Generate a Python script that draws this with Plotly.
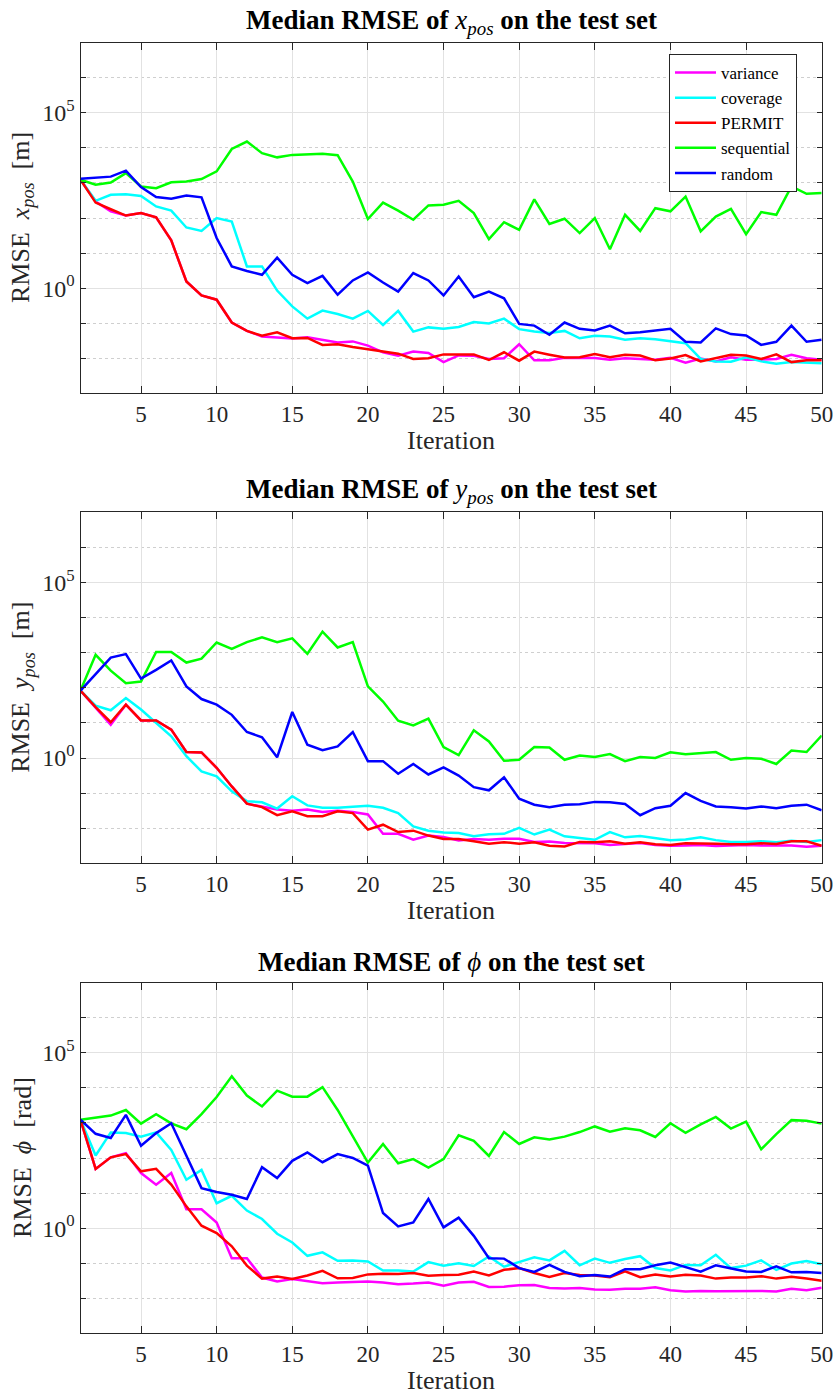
import numpy as np
import plotly.graph_objects as go

# ---------------- data (log10 of median RMSE) ----------------
iterations = list(range(1, 51))
methods = ["variance", "coverage", "PERMIT", "sequential", "random"]
colors = {"variance": "#FF00FF", "coverage": "#00FFFF", "PERMIT": "#FF0000",
          "sequential": "#00FF00", "random": "#0000FF"}

xpos_variance = [3.09, 2.47, 2.19, 2.07, 2.14, 2.02, 1.36, 0.19, -0.21, -0.33,
                 -0.98, -1.22, -1.38, -1.41, -1.44, -1.40, -1.47, -1.55, -1.52, -1.64,
                 -1.83, -1.93, -1.81, -1.85, -2.11, -1.92, -1.93, -2.02, -2.00, -1.60,
                 -2.06, -2.06, -1.99, -1.99, -1.99, -2.04, -2.00, -2.02, -2.04, -1.99,
                 -2.13, -2.01, -2.09, -1.97, -2.04, -2.04, -2.02, -1.90, -2.00, -2.04]
xpos_coverage = [3.09, 2.49, 2.66, 2.68, 2.63, 2.33, 2.21, 1.73, 1.63, 2.00,
                 1.90, 0.62, 0.62, -0.07, -0.52, -0.87, -0.64, -0.74, -0.87, -0.65,
                 -1.05, -0.65, -1.24, -1.12, -1.16, -1.11, -0.97, -1.01, -0.87, -1.17,
                 -1.24, -1.28, -1.22, -1.43, -1.36, -1.38, -1.47, -1.43, -1.46, -1.52,
                 -1.57, -2.02, -2.09, -2.10, -1.97, -2.09, -2.16, -2.11, -2.12, -2.14]
xpos_permit = [3.09, 2.44, 2.25, 2.07, 2.14, 2.02, 1.36, 0.19, -0.21, -0.33,
               -0.98, -1.22, -1.36, -1.26, -1.43, -1.42, -1.62, -1.60, -1.68, -1.74,
               -1.82, -1.87, -2.02, -2.00, -1.89, -1.88, -1.89, -2.05, -1.83, -2.07,
               -1.81, -1.90, -1.98, -1.97, -1.88, -1.97, -1.90, -1.92, -2.06, -2.01,
               -1.91, -2.09, -1.99, -1.90, -1.92, -2.02, -1.89, -2.11, -2.06, -2.06]
xpos_sequential = [3.09, 2.95, 3.01, 3.28, 2.90, 2.85, 3.02, 3.04, 3.11, 3.33,
                   3.97, 4.18, 3.85, 3.73, 3.80, 3.82, 3.83, 3.79, 3.04, 1.97,
                   2.44, 2.21, 1.95, 2.36, 2.38, 2.49, 2.14, 1.40, 1.88, 1.66,
                   2.53, 1.83, 1.98, 1.57, 2.00, 1.11, 2.09, 1.63, 2.28, 2.19,
                   2.61, 1.62, 2.04, 2.26, 1.54, 2.17, 2.09, 2.90, 2.69, 2.71]
xpos_random = [3.12, 3.14, 3.18, 3.35, 2.88, 2.60, 2.55, 2.64, 2.59, 1.43,
               0.62, 0.49, 0.38, 0.87, 0.38, 0.14, 0.35, -0.19, 0.22, 0.45,
               0.16, -0.10, 0.43, 0.22, -0.21, 0.33, -0.26, -0.10, -0.29, -1.02,
               -1.07, -1.33, -0.98, -1.16, -1.21, -1.07, -1.29, -1.26, -1.21, -1.16,
               -1.53, -1.55, -1.15, -1.31, -1.35, -1.62, -1.53, -1.07, -1.53, -1.47]

ypos_variance = [1.92, 1.45, 0.95, 1.52, 1.07, 1.07, 0.81, 0.17, 0.16, -0.28,
                 -0.81, -1.30, -1.38, -1.47, -1.50, -1.47, -1.54, -1.50, -1.54, -1.61,
                 -2.16, -2.16, -2.33, -2.21, -2.25, -2.35, -2.31, -2.33, -2.30, -2.30,
                 -2.39, -2.38, -2.42, -2.42, -2.43, -2.48, -2.44, -2.42, -2.48, -2.50,
                 -2.49, -2.48, -2.51, -2.49, -2.48, -2.49, -2.48, -2.49, -2.53, -2.50]
ypos_coverage = [1.92, 1.49, 1.36, 1.71, 1.38, 1.00, 0.62, 0.05, -0.38, -0.52,
                 -0.95, -1.23, -1.26, -1.44, -1.09, -1.35, -1.42, -1.42, -1.40, -1.36,
                 -1.42, -1.57, -1.95, -2.07, -2.12, -2.14, -2.23, -2.17, -2.16, -1.99,
                 -2.18, -2.04, -2.23, -2.27, -2.33, -2.11, -2.26, -2.22, -2.29, -2.34,
                 -2.32, -2.26, -2.34, -2.39, -2.39, -2.37, -2.40, -2.36, -2.39, -2.34]
ypos_permit = [1.92, 1.45, 1.02, 1.52, 1.07, 1.07, 0.81, 0.17, 0.16, -0.28,
               -0.81, -1.30, -1.40, -1.63, -1.52, -1.66, -1.66, -1.52, -1.57, -2.04,
               -1.90, -2.11, -2.07, -2.21, -2.31, -2.31, -2.37, -2.44, -2.40, -2.44,
               -2.40, -2.50, -2.52, -2.39, -2.40, -2.37, -2.44, -2.40, -2.46, -2.48,
               -2.43, -2.43, -2.44, -2.46, -2.46, -2.43, -2.45, -2.37, -2.37, -2.50]
ypos_sequential = [1.92, 2.94, 2.49, 2.13, 2.18, 3.02, 3.02, 2.72, 2.83, 3.29,
                   3.11, 3.30, 3.44, 3.30, 3.41, 2.97, 3.60, 3.15, 3.30, 2.04,
                   1.61, 1.06, 0.93, 1.12, 0.31, 0.08, 0.79, 0.47, -0.08, -0.05,
                   0.31, 0.30, -0.05, 0.07, 0.03, 0.11, -0.09, 0.03, 0.00, 0.16,
                   0.11, 0.15, 0.17, -0.05, 0.00, -0.02, -0.17, 0.21, 0.17, 0.64]
ypos_random = [1.92, 2.40, 2.86, 2.96, 2.26, 2.51, 2.78, 2.04, 1.68, 1.52,
               1.23, 0.74, 0.59, 0.02, 1.31, 0.38, 0.22, 0.33, 0.74, -0.09,
               -0.09, -0.45, -0.17, -0.47, -0.27, -0.50, -0.83, -0.92, -0.55, -1.16,
               -1.33, -1.40, -1.33, -1.32, -1.25, -1.26, -1.31, -1.63, -1.43, -1.36,
               -1.00, -1.22, -1.38, -1.40, -1.44, -1.38, -1.43, -1.36, -1.33, -1.49]

phi_variance = [3.09, 1.69, 2.02, 2.14, 1.57, 1.24, 1.57, 0.54, 0.54, 0.16,
                -0.86, -0.86, -1.41, -1.52, -1.45, -1.50, -1.57, -1.55, -1.53, -1.52,
                -1.55, -1.60, -1.58, -1.55, -1.64, -1.55, -1.53, -1.68, -1.67, -1.63,
                -1.62, -1.71, -1.72, -1.71, -1.75, -1.76, -1.73, -1.73, -1.69, -1.77,
                -1.81, -1.79, -1.80, -1.79, -1.79, -1.79, -1.81, -1.73, -1.77, -1.70]
phi_coverage = [3.09, 2.07, 2.73, 2.71, 2.61, 2.73, 2.23, 1.38, 1.66, 0.71,
                0.92, 0.50, 0.26, -0.16, -0.41, -0.79, -0.69, -0.93, -0.92, -0.95,
                -1.21, -1.21, -1.24, -0.97, -1.07, -1.00, -1.08, -0.81, -1.10, -0.96,
                -0.83, -0.92, -0.65, -1.06, -0.87, -0.99, -0.88, -0.80, -1.14, -1.21,
                -1.05, -1.06, -0.76, -1.14, -1.07, -0.92, -1.19, -1.01, -0.94, -1.03]
phi_permit = [3.09, 1.69, 2.02, 2.11, 1.62, 1.69, 1.24, 0.62, 0.07, -0.14,
              -0.52, -1.07, -1.44, -1.38, -1.45, -1.35, -1.22, -1.43, -1.42, -1.32,
              -1.30, -1.31, -1.28, -1.36, -1.34, -1.33, -1.24, -1.35, -1.19, -1.14,
              -1.28, -1.39, -1.28, -1.34, -1.35, -1.40, -1.23, -1.40, -1.32, -1.38,
              -1.33, -1.35, -1.44, -1.41, -1.41, -1.37, -1.44, -1.39, -1.44, -1.50]
phi_sequential = [3.09, 3.14, 3.21, 3.37, 2.98, 3.25, 2.99, 2.82, 3.25, 3.74,
                  4.33, 3.78, 3.47, 3.92, 3.75, 3.75, 4.02, 3.37, 2.61, 1.87,
                  2.40, 1.85, 1.97, 1.73, 1.97, 2.65, 2.49, 2.06, 2.74, 2.40,
                  2.59, 2.53, 2.61, 2.74, 2.90, 2.75, 2.85, 2.79, 2.60, 2.99,
                  2.72, 2.96, 3.17, 2.84, 3.04, 2.25, 2.68, 3.08, 3.06, 2.98]
phi_random = [3.09, 2.69, 2.57, 3.23, 2.35, 2.71, 2.99, 2.04, 1.14, 1.03,
              0.95, 0.83, 1.74, 1.43, 1.92, 2.16, 1.88, 2.11, 2.00, 1.78,
              0.43, 0.05, 0.16, 0.83, 0.02, 0.30, -0.22, -0.86, -0.87, -1.14,
              -1.25, -1.05, -1.25, -1.37, -1.34, -1.38, -1.17, -1.17, -1.06, -0.98,
              -1.11, -1.24, -1.06, -1.16, -1.24, -1.25, -1.09, -1.26, -1.25, -1.28]

panels = [
    {"title": "<b>Median RMSE of</b> <i>x</i><sub><i>pos</i></sub> <b>on the test set</b>",
     "ylabel": "RMSE  <i>x</i><sub><i>pos</i></sub>  [m]",
     "series": [xpos_variance, xpos_coverage, xpos_permit, xpos_sequential, xpos_random]},
    {"title": "<b>Median RMSE of</b> <i>y</i><sub><i>pos</i></sub> <b>on the test set</b>",
     "ylabel": "RMSE  <i>y</i><sub><i>pos</i></sub>  [m]",
     "series": [ypos_variance, ypos_coverage, ypos_permit, ypos_sequential, ypos_random]},
    {"title": "<b>Median RMSE of</b> <i>ϕ</i> <b>on the test set</b>",
     "ylabel": "RMSE  <i>ϕ</i>  [rad]",
     "series": [phi_variance, phi_coverage, phi_permit, phi_sequential, phi_random]},
]

x_ticks = [5, 10, 15, 20, 25, 30, 35, 40, 45, 50]
y_major = [1, 1e5]
y_major_text = ["10<sup>0</sup>", "10<sup>5</sup>"]
y_minor = [1e-2, 1e-1, 1e1, 1e2, 1e3, 1e4, 1e6]

# ---------------- layout geometry ----------------
W, H = 835, 1394
FONT = "Liberation Serif"
x_dom = [80.5 / W, 821.7 / W]
panel_px = [(42.7, 393.3), (512.3, 863.3), (982.7, 1333.3)]

fig = go.Figure()
layout = dict(width=W, height=H, margin=dict(l=0, r=0, t=0, b=0),
              paper_bgcolor="white", plot_bgcolor="white",
              font=dict(family=FONT, color="#262626"),
              annotations=[])

for k, p in enumerate(panels):
    n = "" if k == 0 else str(k + 1)
    top, bot = panel_px[k]
    for name, vals in zip(methods, p["series"]):
        fig.add_trace(go.Scatter(
            x=iterations, y=np.power(10.0, np.array(vals)), mode="lines",
            name=name, legendgroup=name, showlegend=(k == 0),
            line=dict(color=colors[name], width=2.5),
            xaxis="x" + n, yaxis="y" + n))
    layout["xaxis" + n] = dict(
        domain=x_dom, anchor="y" + n, range=[1, 50], tickvals=x_ticks,
        ticks="inside", ticklen=7, tickcolor="#262626", mirror="ticks",
        showline=True, linecolor="#262626", linewidth=1,
        showgrid=True, gridcolor="#e2e2e2", gridwidth=1, zeroline=False,
        tickfont=dict(family=FONT, size=23, color="#262626"), automargin=False)
    layout["yaxis" + n] = dict(
        domain=[1 - bot / H, 1 - top / H], anchor="x" + n, type="log",
        range=[-3, 7], tickvals=y_major, ticktext=y_major_text,
        ticks="inside", ticklen=5, tickcolor="#262626", mirror="ticks",
        showline=True, linecolor="#262626", linewidth=1,
        showgrid=True, gridcolor="#e2e2e2", gridwidth=1, zeroline=False,
        minor=dict(tickmode="array", tickvals=y_minor, ticks="inside", ticklen=5,
                   tickcolor="#262626", showgrid=True, gridcolor="#cfcfcf",
                   griddash="dot", gridwidth=1),
        tickfont=dict(family=FONT, size=24, color="#262626"), automargin=False)
    cx = (x_dom[0] + x_dom[1]) / 2
    layout["annotations"] += [
        dict(text=p["title"], xref="paper", yref="paper", x=cx, y=1 - (top - 21) / H,
             xanchor="center", yanchor="middle", showarrow=False,
             font=dict(family=FONT, size=27, color="black")),
        dict(text="Iteration", xref="paper", yref="paper", x=cx, y=1 - (bot + 47) / H,
             xanchor="center", yanchor="middle", showarrow=False,
             font=dict(family=FONT, size=26, color="#262626")),
        dict(text=p["ylabel"], xref="paper", yref="paper", x=22 / W,
             y=1 - (top + bot) / 2 / H, xanchor="center", yanchor="middle",
             textangle=-90, showarrow=False,
             font=dict(family=FONT, size=26, color="#262626")),
    ]

layout["legend"] = dict(x=669 / W, y=1 - 54 / H, xanchor="left", yanchor="top",
                        bgcolor="white", bordercolor="#262626", borderwidth=1,
                        font=dict(family=FONT, size=17, color="black"),
                        tracegroupgap=0, itemwidth=41)
fig.update_layout(**layout)
fig.write_html("out.html", config={"displayModeBar": False},
               post_script="document.body.style.margin='0px';document.body.style.overflow='hidden';")
